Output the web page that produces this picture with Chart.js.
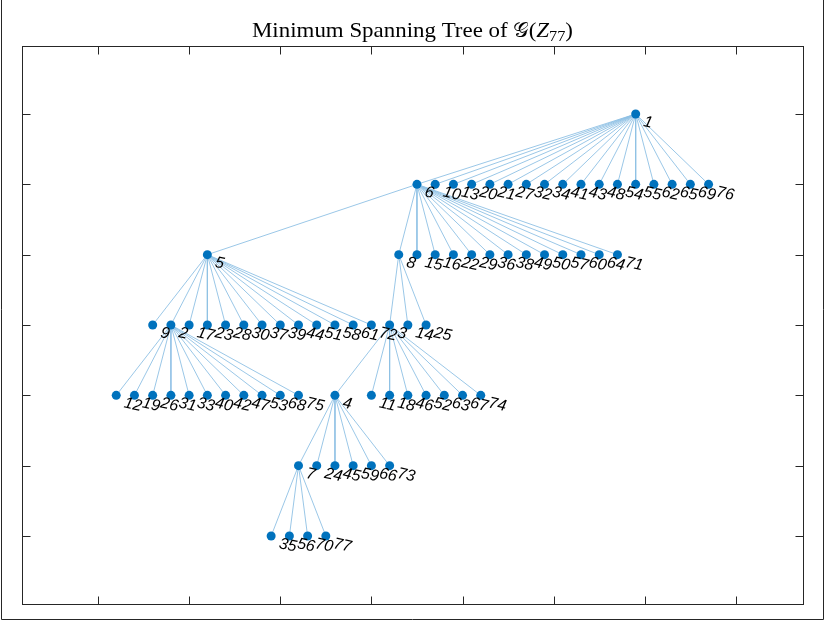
<!DOCTYPE html>
<html>
<head>
<meta charset="utf-8">
<script src="https://cdn.jsdelivr.net/npm/chart.js@4.4.1/dist/chart.umd.min.js"></script>
<style>
  html, body { margin: 0; padding: 0; background: #ffffff; }
  #wrap { width: 825px; height: 621px; position: relative; }
</style>
</head>
<body>
<div id="wrap"><canvas id="c" width="825" height="621"></canvas></div>
<script>
// Minimum spanning tree of G(Z_77), drawn as a layered tree.
// Node ids, their layout x-coordinate and their depth in the tree.
const nodeIds = [
  1,
  6, 10, 13, 20, 21, 27, 32, 34, 41, 43, 48, 54, 55, 62, 65, 69, 76,
  5, 8, 15, 16, 22, 29, 36, 38, 49, 50, 57, 60, 64, 71,
  9, 2, 17, 23, 28, 30, 37, 39, 44, 51, 58, 61, 72, 3, 14, 25,
  12, 19, 26, 31, 33, 40, 42, 47, 53, 68, 75, 4, 11, 18, 46, 52, 63, 67, 74,
  7, 24, 45, 59, 66, 73,
  35, 56, 70, 77
];
const nodeX = [
  29.5,
  17.5, 18.5, 19.5, 20.5, 21.5, 22.5, 23.5, 24.5, 25.5, 26.5, 27.5, 28.5, 29.5, 30.5, 31.5, 32.5, 33.5,
  6, 16.5, 17.5, 18.5, 19.5, 20.5, 21.5, 22.5, 23.5, 24.5, 25.5, 26.5, 27.5, 28.5,
  3, 4, 5, 6, 7, 8, 9, 10, 11, 12, 13, 14, 15, 16, 17, 18,
  1, 2, 3, 4, 5, 6, 7, 8, 9, 10, 11, 13, 15, 16, 17, 18, 19, 20, 21,
  11, 12, 13, 14, 15, 16,
  9.5, 10.5, 11.5, 12.5
];
const nodeDepth = [
  0,
  1, 1, 1, 1, 1, 1, 1, 1, 1, 1, 1, 1, 1, 1, 1, 1, 1,
  2, 2, 2, 2, 2, 2, 2, 2, 2, 2, 2, 2, 2, 2,
  3, 3, 3, 3, 3, 3, 3, 3, 3, 3, 3, 3, 3, 3, 3, 3,
  4, 4, 4, 4, 4, 4, 4, 4, 4, 4, 4, 4, 4, 4, 4, 4, 4, 4, 4,
  5, 5, 5, 5, 5, 5,
  6, 6, 6, 6
];

// Tree edges: parent -> children
const parentIds = [1, 6, 5, 8, 2, 3, 4, 7];
const childLists = [
  [6, 10, 13, 20, 21, 27, 32, 34, 41, 43, 48, 54, 55, 62, 65, 69, 76],
  [5, 8, 15, 16, 22, 29, 36, 38, 49, 50, 57, 60, 64, 71],
  [9, 2, 17, 23, 28, 30, 37, 39, 44, 51, 58, 61, 72],
  [3, 14, 25],
  [12, 19, 26, 31, 33, 40, 42, 47, 53, 68, 75],
  [4, 11, 18, 46, 52, 63, 67, 74],
  [7, 24, 45, 59, 66, 73],
  [35, 56, 70, 77]
];

// Axis ticks (box with inward ticks, no tick labels)
const xTicks = [0, 5, 10, 15, 20, 25, 30, 35];
const yTicks = [1, 2, 3, 4, 5, 6, 7];

const maxDepth = 6;
const nodeY = nodeDepth.map(d => maxDepth + 1 - d);
const pos = {};
nodeIds.forEach((id, i) => { pos[id] = { x: nodeX[i], y: nodeY[i] }; });

const nodeColor = '#0072BD';
const edgeColor = '#8fc1e4';

// Edge segments as one line dataset, broken between edges
const edgePoints = [];
parentIds.forEach((p, k) => {
  childLists[k].forEach(c => {
    edgePoints.push({ x: pos[p].x, y: pos[p].y });
    edgePoints.push({ x: pos[c].x, y: pos[c].y });
    edgePoints.push({ x: null, y: null });
  });
});

const nodePoints = nodeIds.map(id => ({ x: pos[id].x, y: pos[id].y, id }));

const axisColor = '#262626';
const labelAngle = 12 * Math.PI / 180;

const matlabAxes = {
  id: 'matlabAxes',
  afterDatasetsDraw(chart) {
    const ctx = chart.ctx;
    const xs = chart.scales.x, ys = chart.scales.y;
    const a = chart.chartArea;

    // node labels, italic and turned slightly clockwise
    ctx.save();
    ctx.fillStyle = '#000000';
    ctx.font = 'italic 16px "Liberation Sans", Arial, sans-serif';
    ctx.textAlign = 'left';
    ctx.textBaseline = 'alphabetic';
    nodePoints.forEach(p => {
      const px = xs.getPixelForValue(p.x);
      const py = ys.getPixelForValue(p.y);
      ctx.save();
      ctx.translate(px + 7, py + 12);
      ctx.rotate(labelAngle);
      ctx.fillText(String(p.id), 0, 0);
      ctx.restore();
    });
    ctx.restore();

    // axes box
    ctx.save();
    ctx.strokeStyle = axisColor;
    ctx.lineWidth = 1;
    const L = Math.round(a.left) + 0.5, R = Math.round(a.right) + 0.5;
    const T = Math.round(a.top) + 0.5, B = Math.round(a.bottom) + 0.5;
    ctx.strokeRect(L, T, R - L, B - T);
    const tl = 8;
    ctx.beginPath();
    xTicks.forEach(v => {
      const px = Math.round(xs.getPixelForValue(v)) + 0.5;
      ctx.moveTo(px, B); ctx.lineTo(px, B - tl);
      ctx.moveTo(px, T); ctx.lineTo(px, T + tl);
    });
    yTicks.forEach(v => {
      const py = Math.round(ys.getPixelForValue(v)) + 0.5;
      ctx.moveTo(L, py); ctx.lineTo(L + tl, py);
      ctx.moveTo(R, py); ctx.lineTo(R - tl, py);
    });
    ctx.stroke();

    // figure border
    ctx.beginPath();
    ctx.moveTo(1.5, 0); ctx.lineTo(1.5, 619.5); ctx.lineTo(823.5, 619.5); ctx.lineTo(823.5, 0);
    ctx.stroke();
    ctx.restore();

    // title with calligraphic G and subscript
    ctx.save();
    ctx.fillStyle = '#000000';
    ctx.textBaseline = 'alphabetic';
    const base = 37;
    const serif = '"Liberation Serif", "DejaVu Serif", serif';
    const parts = [
      { t: 'Minimum Spanning Tree of ', f: `21px ${serif}`, dy: 0 },
      { t: '\u{1D4A2}', f: `20px "DejaVu Serif", "DejaVu Sans", serif`, dy: 0 },
      { t: '(', f: `21px ${serif}`, dy: 0 },
      { t: 'Z', f: `italic 21px ${serif}`, dy: 0 },
      { t: '77', f: `15px ${serif}`, dy: 4 },
      { t: ')', f: `21px ${serif}`, dy: 0 }
    ];
    let total = 0;
    parts.forEach(p => { ctx.font = p.f; p.w = ctx.measureText(p.t).width; total += p.w; });
    const targetW = 321;
    const sx = Math.min(1.2, Math.max(0.85, targetW / total));
    const cx = (a.left + a.right) / 2;
    ctx.translate(cx - (total * sx) / 2, base);
    ctx.scale(sx, 1);
    let x = 0;
    parts.forEach(p => { ctx.font = p.f; ctx.fillText(p.t, x, p.dy); x += p.w; });
    ctx.restore();
  }
};

new Chart(document.getElementById('c'), {
  type: 'scatter',
  data: {
    datasets: [
      {
        label: 'nodes',
        data: nodePoints,
        backgroundColor: nodeColor,
        borderColor: nodeColor,
        pointRadius: 4.5,
        pointHoverRadius: 4.5,
        borderWidth: 0,
        showLine: false,
        order: 0
      },
      {
        label: 'edges',
        type: 'line',
        data: edgePoints,
        borderColor: edgeColor,
        borderWidth: 0.9,
        pointRadius: 0,
        spanGaps: false,
        fill: false,
        order: 1
      }
    ]
  },
  options: {
    responsive: false,
    animation: false,
    devicePixelRatio: 1,
    layout: { padding: { left: 22, top: 46, right: 22, bottom: 17 } },
    plugins: { legend: { display: false }, tooltip: { enabled: false }, title: { display: false } },
    scales: {
      x: { type: 'linear', display: false, min: -4.17, max: 38.68 },
      y: { type: 'linear', display: false, min: 0.033, max: 7.967 }
    }
  },
  plugins: [matlabAxes]
});
</script>
</body>
</html>
